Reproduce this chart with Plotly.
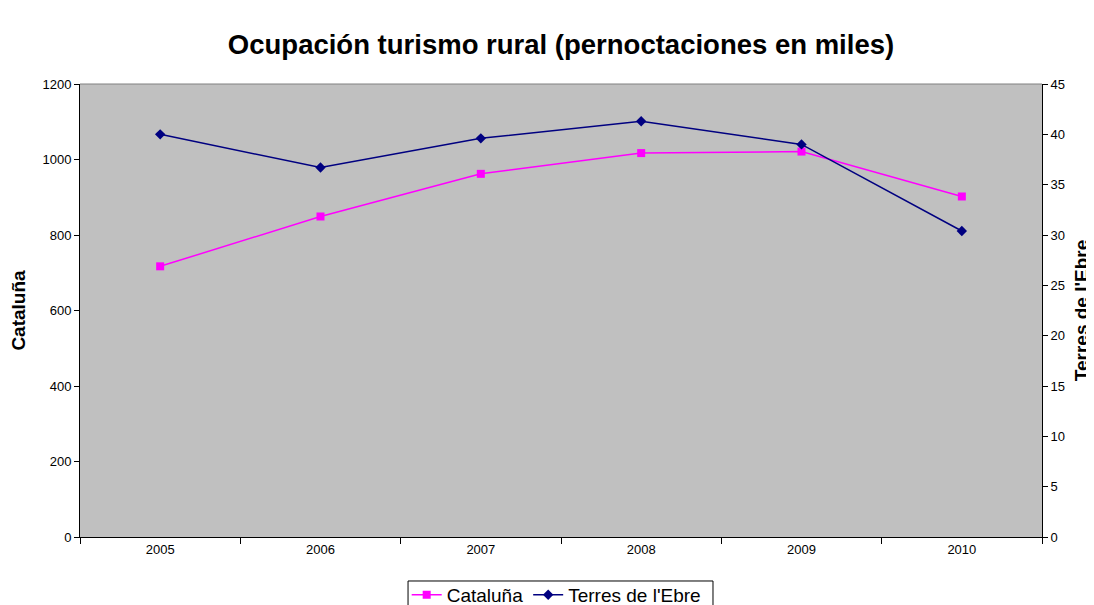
import plotly.graph_objects as go

years = ["2005", "2006", "2007", "2008", "2009", "2010"]
cataluna = [717, 849, 962, 1017, 1021, 902]
terres = [40.0, 36.7, 39.6, 41.3, 39.0, 30.4]

fig = go.Figure()
fig.add_trace(go.Scatter(
    x=years, y=cataluna, name="Cataluña", mode="lines+markers",
    line=dict(color="#FF00FF", width=1.5),
    marker=dict(symbol="square", size=8, color="#FF00FF"),
    yaxis="y",
))
fig.add_trace(go.Scatter(
    x=years, y=terres, name="Terres de l'Ebre", mode="lines+markers",
    line=dict(color="#000080", width=1.5),
    marker=dict(symbol="diamond", size=8, color="#000080"),
    yaxis="y2",
))

W, H = 1086, 597
font = "Liberation Sans, Arial, sans-serif"
fig.update_layout(
    width=W, height=H,
    margin=dict(l=72, r=52, t=76, b=68, autoexpand=False),
    paper_bgcolor="white",
    plot_bgcolor="#C0C0C0",
    font=dict(family=font, color="black", size=13),
    title=dict(text="<b>Ocupación turismo rural (pernoctaciones en miles)</b>",
               x=553 / W, xanchor="center", y=1 - 36 / H, yanchor="middle",
               font=dict(size=27.5, family=font, color="black")),
    xaxis=dict(type="category", tickson="boundaries", ticks="outside",
               ticklen=6, tickcolor="black", showline=True, linecolor="black",
               linewidth=1, mirror=False, showgrid=False, zeroline=False,
               tickfont=dict(size=13), range=[-0.5, 5.5], automargin=False),
    yaxis=dict(range=[0, 1200], dtick=200, ticks="outside", ticklen=5,
               tickcolor="black", showline=True, linecolor="black",
               showgrid=False, zeroline=False, tickfont=dict(size=13),
               automargin=False,
               title=dict(text="<b>Cataluña</b>", font=dict(size=19), standoff=12)),
    yaxis2=dict(range=[0, 45], dtick=5, overlaying="y", side="right",
                ticks="outside", ticklen=5, tickcolor="black", showline=True,
                linecolor="black", showgrid=False, zeroline=False,
                tickfont=dict(size=13), automargin=False,
                title=dict(text="<b>Terres de l'Ebre</b>", font=dict(size=19), standoff=10)),
    legend=dict(orientation="h", x=0.495, xanchor="center", y=-0.086, yanchor="top",
                borderwidth=0, bgcolor="rgba(0,0,0,0)",
                font=dict(size=19, family=font), itemwidth=30, tracegroupgap=0),
    showlegend=True,
)
# plot area top edge
fig.add_shape(type="line", xref="paper", yref="paper", x0=0, x1=1, y0=1, y1=1,
              line=dict(color="#808080", width=1))
# legend frame (runs off the bottom edge, as in the reference)
fig.add_shape(type="rect", xref="paper", yref="paper",
              x0=0.341, x1=0.658, y0=-0.25, y1=-0.0971,
              line=dict(color="black", width=1), fillcolor="white", layer="below")

fig.write_html("out.html")
